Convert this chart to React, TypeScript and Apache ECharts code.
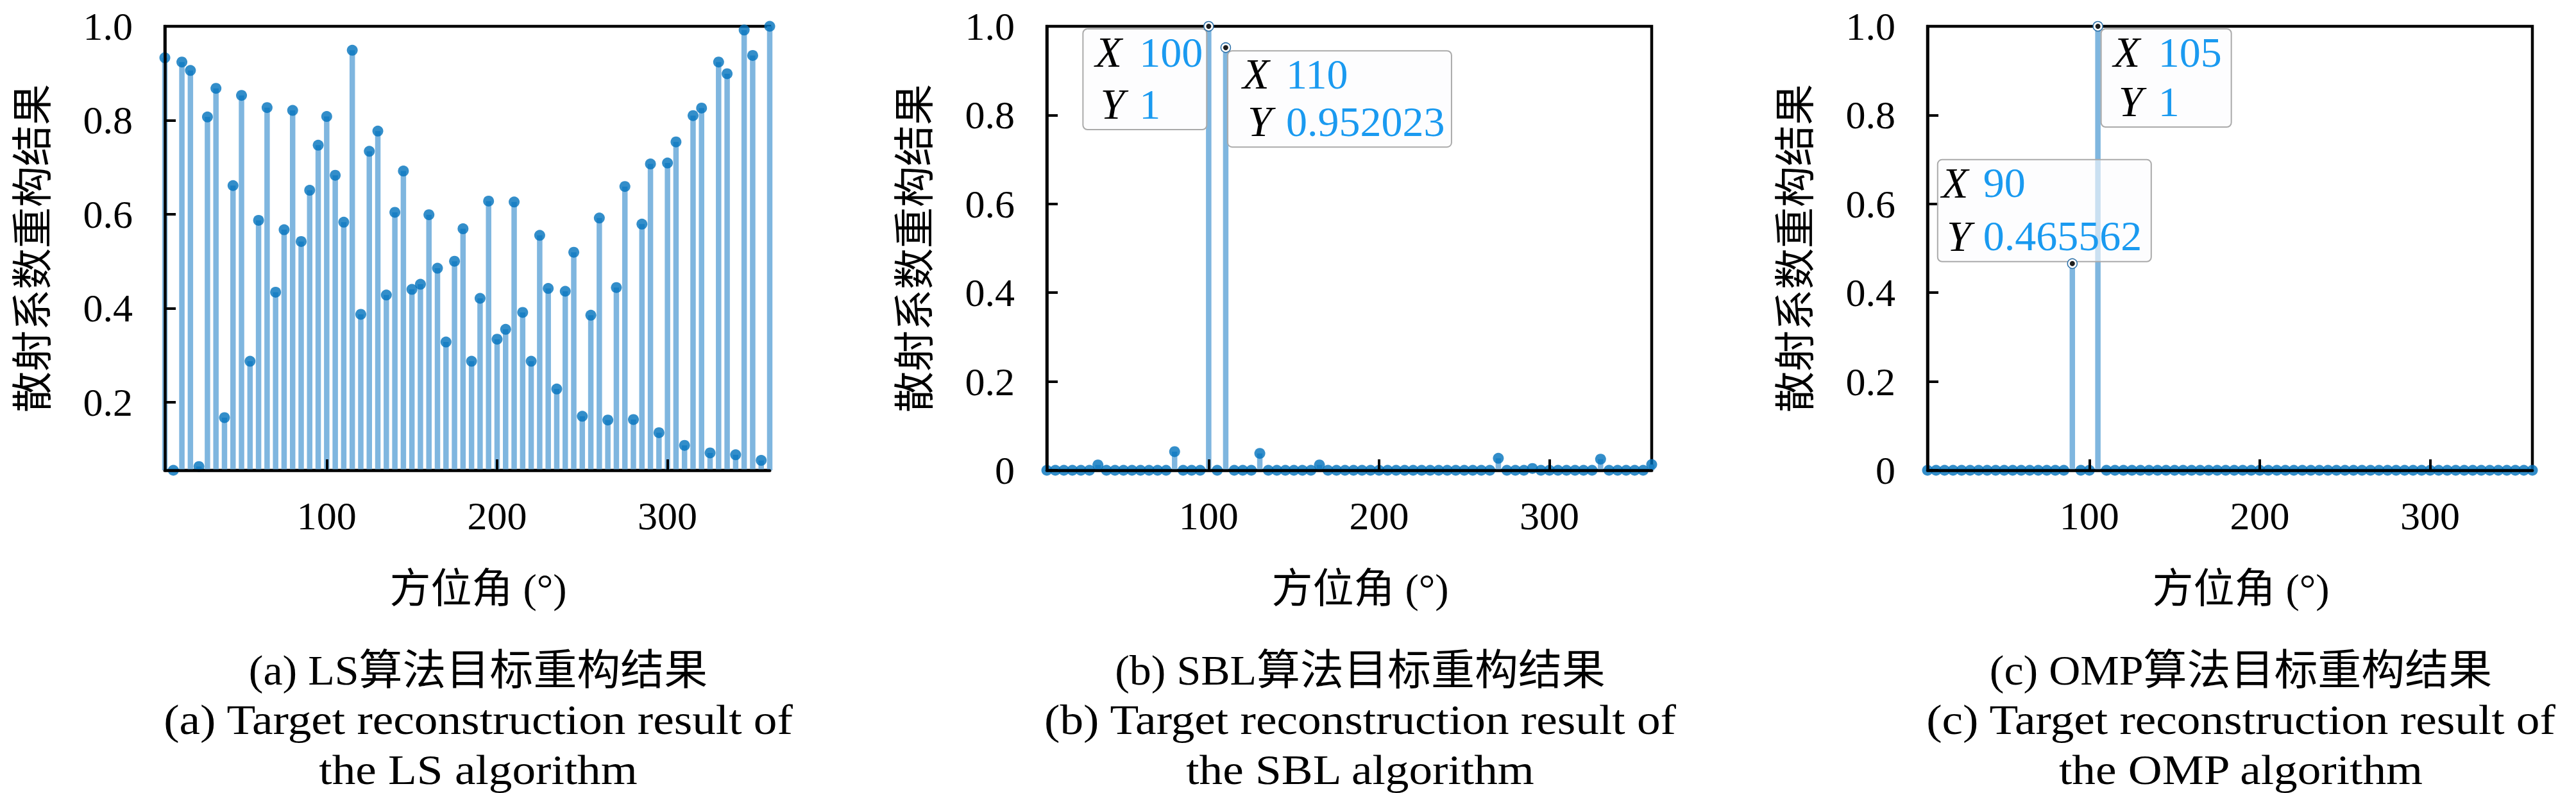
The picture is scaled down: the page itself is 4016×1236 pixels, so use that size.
import React, { useEffect, useRef } from "react";
import * as echarts from "echarts";

// ---------------- data ----------------
const angles = [
  5, 10, 15, 20, 25, 30, 35, 40, 45, 50,
  55, 60, 65, 70, 75, 80, 85, 90, 95, 100,
  105, 110, 115, 120, 125, 130, 135, 140, 145, 150,
  155, 160, 165, 170, 175, 180, 185, 190, 195, 200,
  205, 210, 215, 220, 225, 230, 235, 240, 245, 250,
  255, 260, 265, 270, 275, 280, 285, 290, 295, 300,
  305, 310, 315, 320, 325, 330, 335, 340, 345, 350,
  355, 360,
];

const lsValues = [
  0.933, 0.055, 0.924, 0.906, 0.063, 0.807, 0.868, 0.167, 0.661, 0.853,
  0.287, 0.587, 0.827, 0.434, 0.567, 0.821, 0.542, 0.651, 0.747, 0.808,
  0.683, 0.583, 0.949, 0.387, 0.734, 0.777, 0.428, 0.604, 0.692, 0.44,
  0.451, 0.599, 0.485, 0.328, 0.5, 0.569, 0.287, 0.421, 0.628, 0.334,
  0.355, 0.626, 0.391, 0.287, 0.555, 0.442, 0.228, 0.436, 0.519, 0.17,
  0.385, 0.592, 0.162, 0.444, 0.659, 0.163, 0.579, 0.707, 0.135, 0.709,
  0.754, 0.108, 0.81, 0.826, 0.092, 0.924, 0.899, 0.088, 0.992, 0.938,
  0.076, 1.0,
];

const sblValues = [
  0, 0, 0, 0, 0, 0, 0.012, 0, 0, 0,
  0, 0, 0, 0, 0, 0.042, 0, 0, 0, 1,
  0, 0.952023, 0, 0, 0, 0.038, 0, 0, 0, 0,
  0, 0, 0.012, 0, 0, 0, 0, 0, 0, 0,
  0, 0, 0, 0, 0, 0, 0, 0, 0, 0,
  0, 0, 0, 0.027, 0, 0, 0, 0.004, 0, 0,
  0, 0, 0, 0, 0, 0.025, 0, 0, 0, 0,
  0, 0.013,
];

const ompValues = [
  0, 0, 0, 0, 0, 0, 0, 0, 0, 0,
  0, 0, 0, 0, 0, 0, 0, 0.465562, 0, 0,
  1, 0, 0, 0, 0, 0, 0, 0, 0, 0,
  0, 0, 0, 0, 0, 0, 0, 0, 0, 0,
  0, 0, 0, 0, 0, 0, 0, 0, 0, 0,
  0, 0, 0, 0, 0, 0, 0, 0, 0, 0,
  0, 0, 0, 0, 0, 0, 0, 0, 0, 0,
  0, 0,
];

// data tips: [x, y, y-label text]
const sblTips: [number, number, string][] = [
  [100, 1, "1"],
  [110, 0.952023, "0.952023"],
];
const ompTips: [number, number, string][] = [
  [105, 1, "1"],
  [90, 0.465562, "0.465562"],
];

const xAxisName = "方位角 (°)";
const yAxisName = "散射系数重构结果";
const captionsCn = [
  "(a) LS算法目标重构结果",
  "(b) SBL算法目标重构结果",
  "(c) OMP算法目标重构结果",
];
const captionsEn1 = [
  "(a) Target reconstruction result of",
  "(b) Target reconstruction result of",
  "(c) Target reconstruction result of",
];
const captionsEn2 = ["the LS algorithm", "the SBL algorithm", "the OMP algorithm"];

// ---------------- layout / style ----------------
const W = 4016;
const H = 1236;
const gridLefts = [257, 1632, 3005];
const gridTop = 41;
const gridW = 943;
const gridH = 692;
const SERIF = "Liberation Serif";
const SERIF_CJK = "'Liberation Serif', 'Noto Sans CJK SC', serif";
const CJK = "'Noto Sans CJK SC', sans-serif";
const STEM = "#7FB6DF";
const DOT = "#0072BD";
const TIPVAL = "#1A9AF0";

const tipLayouts = [
  [
    { dx: -196, dy: 4, w: 193, h: 157, lx: 40, vx: 88 },
    { dx: 3, dy: 5, w: 349, h: 150, lx: 44, vx: 91 },
  ],
  [
    { dx: 5, dy: 4, w: 203, h: 153, lx: 40, vx: 89 },
    { dx: -210, dy: -162, w: 333, h: 159, lx: 27, vx: 71 },
  ],
];

export default function App() {
  const ref = useRef<HTMLDivElement>(null);

  useEffect(() => {
    if (!ref.current) return;
    const chart = echarts.init(ref.current, undefined, { renderer: "svg", width: W, height: H });

    const panels = [
      { values: lsValues, tips: [] as [number, number, string][] },
      { values: sblValues, tips: sblTips },
      { values: ompValues, tips: ompTips },
    ];

    const grid = gridLefts.map((l) => ({
      left: l,
      top: gridTop,
      width: gridW,
      height: gridH,
      show: true,
      borderColor: "#000",
      borderWidth: 4.5,
      backgroundColor: "transparent",
    }));

    const labelText = {
      fontSize: 62,
      color: "#000",
      fontFamily: SERIF,
      fontStyle: "normal",
      fontWeight: "normal",
    };

    const xAxis = gridLefts.map((_, i) => ({
      type: "value",
      gridIndex: i,
      min: angles[0],
      max: angles[angles.length - 1],
      z: 5,
      splitLine: { show: false },
      axisLine: { show: true, onZero: false, lineStyle: { color: "#000", width: 4.5 } },
      axisTick: { show: true, inside: true, length: 17, lineStyle: { color: "#000", width: 4 } },
      axisLabel: {
        ...labelText,
        showMinLabel: false,
        showMaxLabel: false,
        margin: 40,
        formatter: (v: number) => (v % 100 === 0 ? String(v) : ""),
      },
    }));

    const yAxis = gridLefts.map((_, i) => {
      const base: any = {
        type: "value",
        gridIndex: i,
        max: 1,
        z: 5,
        splitLine: { show: false },
        axisLine: { show: true, onZero: false, lineStyle: { color: "#000", width: 4.5 } },
        axisTick: { show: true, inside: true, length: 17, lineStyle: { color: "#000", width: 4 } },
        axisLabel: {
          ...labelText,
          margin: 50,
          formatter: (v: number) => {
            if (v === 0) return "0";
            const r = Math.round(v * 10) / 10;
            if (Math.abs(r - v) > 1e-6) return "";
            return r.toFixed(1);
          },
        },
      };
      if (i === 0) {
        base.min = Math.min(...lsValues);
        base.axisLabel.showMinLabel = false;
      } else {
        base.min = 0;
        base.interval = 0.2;
      }
      return base;
    });

    const series: any[] = [];
    panels.forEach((p, i) => {
      series.push({
        type: "bar",
        xAxisIndex: i,
        yAxisIndex: i,
        data: angles.map((a, k) => [a, p.values[k]]),
        barWidth: 8.5,
        itemStyle: { color: STEM },
        clip: true,
        silent: true,
        z: 2,
      });
      series.push({
        type: "scatter",
        xAxisIndex: i,
        yAxisIndex: i,
        data: angles.map((a, k) => {
          const isTip = p.tips.some((t) => t[0] === a);
          return isTip ? { value: [a, p.values[k]], itemStyle: { opacity: 0 } } : [a, p.values[k]];
        }),
        symbol: "circle",
        symbolSize: 17,
        itemStyle: { color: DOT },
        clip: false,
        silent: true,
        z: 3,
      });
    });

    chart.setOption({
      animation: false,
      backgroundColor: "#fff",
      textStyle: { fontFamily: SERIF },
      grid,
      xAxis,
      yAxis,
      series,
    });

    // ---------- graphics: axis names, captions, data tips ----------
    const gfx: any[] = [];
    gridLefts.forEach((l, i) => {
      const cx = l + gridW / 2 + 17;
      gfx.push({
        type: "text",
        x: l - 212,
        y: gridTop + gridH / 2,
        rotation: Math.PI / 2,
        style: { text: yAxisName, fontSize: 64, fontFamily: CJK, fill: "#000", align: "center", verticalAlign: "middle" },
      });
      gfx.push({
        type: "text",
        x: cx,
        y: 917,
        style: { text: xAxisName, fontSize: 64, fontFamily: SERIF_CJK, fill: "#000", align: "center", verticalAlign: "middle" },
      });
      gfx.push({
        type: "text",
        x: cx,
        y: 1044,
        scaleX: 1.03,
        style: { text: captionsCn[i], fontSize: 66, fontFamily: SERIF_CJK, fill: "#000", align: "center", verticalAlign: "middle" },
      });
      gfx.push({
        type: "text",
        x: cx,
        y: 1122,
        scaleX: 1.11,
        style: { text: captionsEn1[i], fontSize: 66, fontFamily: SERIF, fill: "#000", align: "center", verticalAlign: "middle" },
      });
      gfx.push({
        type: "text",
        x: cx,
        y: 1200,
        scaleX: 1.11,
        style: { text: captionsEn2[i], fontSize: 66, fontFamily: SERIF, fill: "#000", align: "center", verticalAlign: "middle" },
      });
    });

    panels.forEach((p, i) => {
      p.tips.forEach((t, j) => {
        const lay = tipLayouts[i - 1][j];
        const pt = chart.convertToPixel({ gridIndex: i } as any, [t[0], t[1]]) as number[];
        const bx = pt[0] + lay.dx;
        const by = pt[1] + lay.dy;
        gfx.push({
          type: "rect",
          z: 100,
          shape: { x: bx, y: by, width: lay.w, height: lay.h, r: 7 },
          style: { fill: "rgba(251,251,254,0.6)", stroke: "#AAAAAA", lineWidth: 2 },
        });
        gfx.push({
          type: "text",
          z: 101,
          x: bx + lay.lx,
          y: by + 36,
          style: { text: "X", fontSize: 68, fontStyle: "italic", fontFamily: SERIF, fill: "#000", align: "center", verticalAlign: "middle" },
        });
        gfx.push({
          type: "text",
          z: 101,
          x: bx + lay.lx + 6,
          y: by + lay.h - 40,
          style: { text: "Y", fontSize: 68, fontStyle: "italic", fontFamily: SERIF, fill: "#000", align: "center", verticalAlign: "middle" },
        });
        gfx.push({
          type: "text",
          z: 101,
          x: bx + lay.vx,
          y: by + 36,
          style: { text: String(t[0]), fontSize: 66, fontFamily: SERIF, fill: TIPVAL, align: "left", verticalAlign: "middle" },
        });
        gfx.push({
          type: "text",
          z: 101,
          x: bx + lay.vx,
          y: by + lay.h - 40,
          style: { text: t[2], fontSize: 66, fontFamily: SERIF, fill: TIPVAL, align: "left", verticalAlign: "middle" },
        });
        gfx.push({
          type: "circle",
          z: 102,
          shape: { cx: pt[0], cy: pt[1], r: 7.5 },
          style: { fill: "#ffffff", stroke: "#2A6FA8", lineWidth: 1.5 },
        });
        gfx.push({
          type: "circle",
          z: 103,
          shape: { cx: pt[0], cy: pt[1], r: 4 },
          style: { fill: "#1E1E1E" },
        });
      });
    });

    chart.setOption({ graphic: gfx });

    return () => {
      chart.dispose();
    };
  }, []);

  return (
    <div
      ref={ref}
      style={{ position: "fixed", left: 0, top: 0, width: W + "px", height: H + "px", background: "#fff" }}
    />
  );
}
